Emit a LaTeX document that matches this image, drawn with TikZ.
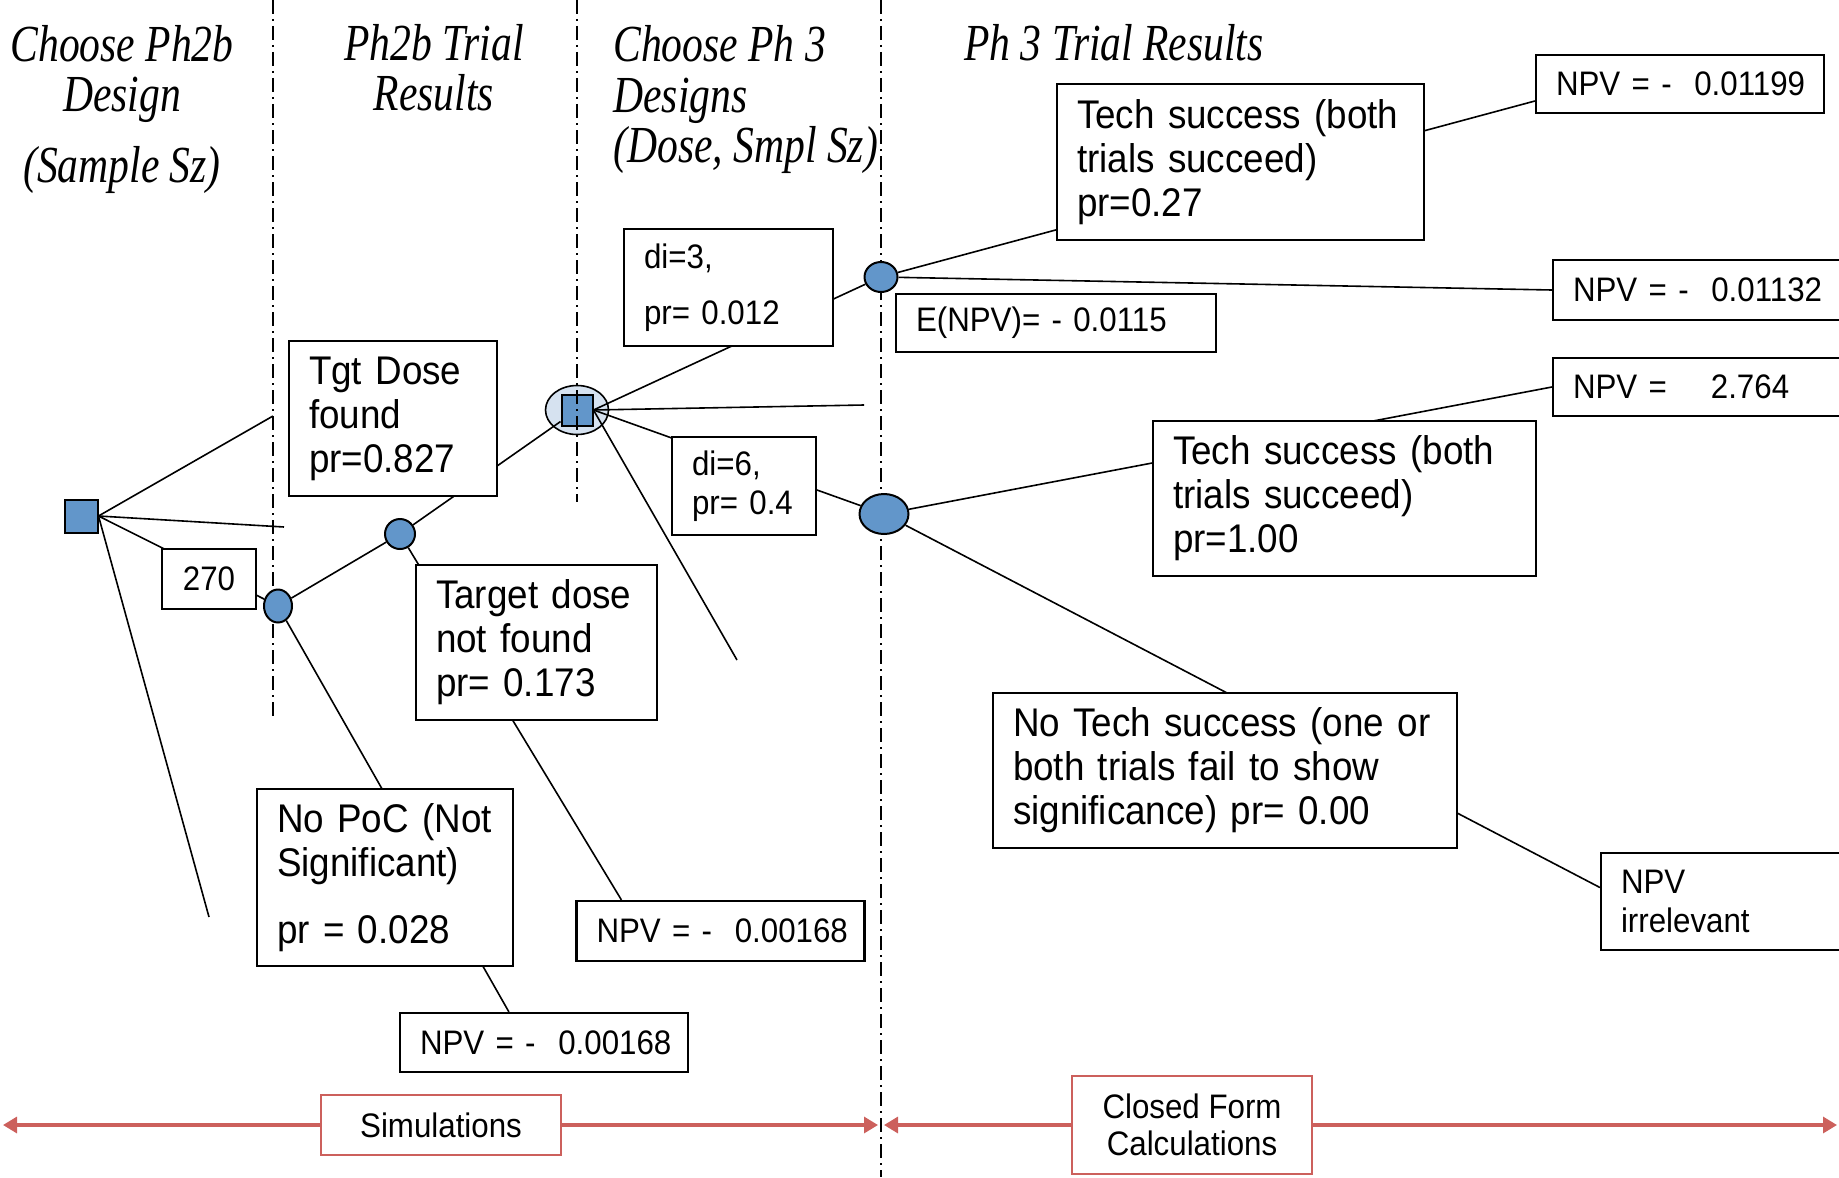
\documentclass[tikz,border=0pt]{standalone}
\usepackage{fontspec}
\setmainfont{Liberation Sans}[FakeStretch=0.92]
\newfontfamily\headfont{Liberation Serif}[FakeStretch=0.8]
\usetikzlibrary{arrows.meta,backgrounds,shapes.geometric}
\definecolor{nodeblue}{RGB}{98,150,202}
\definecolor{haloblue}{RGB}{214,226,240}
\definecolor{spanred}{RGB}{204,96,92}
\begin{document}
\begin{tikzpicture}[x=0.5pt,y=-0.5pt,
  head/.style={font=\headfont\itshape\fontsize{26}{25}\selectfont,inner sep=0pt},
  lbl/.style={draw,line width=1.1pt,fill=white,align=left,inner xsep=10pt,inner ysep=2pt,
    font=\fontsize{20}{22}\selectfont},
  sml/.style={lbl,font=\fontsize{17}{19.4}\selectfont},
  span/.style={draw=spanred,line width=1.1pt,fill=white,align=center,
    font=\fontsize{17}{18.8}\selectfont},
  decision/.style={draw,line width=1pt,fill=nodeblue,minimum size=#1,inner sep=0pt},
  chance/.style={ellipse,draw,line width=1pt,fill=nodeblue,inner sep=0pt},
  branch/.style={line width=0.8pt},
  divider/.style={line width=0.7pt,dash pattern=on 7pt off 2.5pt on 1pt off 2.5pt},
  spanarrow/.style={draw=spanred,line width=1.6pt,-{Triangle[length=7pt,width=8pt]}}]
\useasboundingbox (0,0) rectangle (1839,1177);

% column headers (anchored at the baseline of the last line)
\node[head,anchor=base,align=center] (hdA) at (122,182) {Choose Ph2b\\Design\\[10.5pt](Sample Sz)};
\node[head,anchor=base,align=center] (hdB) at (434,111) {Ph2b Trial\\Results};
\node[head,anchor=base west,align=left] (hdC) at (613,162) {Choose Ph 3\\Designs\\(Dose, Smpl Sz)};
\node[head,anchor=base west] (hdD) at (964,61) {Ph 3 Trial Results};

% decision and chance nodes
\node[decision=16.5pt] (root) at (81,516) {};
\node[chance,minimum width=14pt,minimum height=16.5pt] (c1) at (278,606) {};
\node[chance,minimum width=15pt,minimum height=15pt] (c2) at (400,534) {};
\node[decision=15.5pt] (d2) at (577,410) {};
\node[chance,minimum width=16.5pt,minimum height=15pt] (c3) at (881,277) {};
\node[chance,minimum width=24.5pt,minimum height=20pt] (c4) at (884,514) {};

% branch labels and payoffs
\node[sml,align=center,inner xsep=0pt,minimum width=47pt,minimum height=30pt] (n270) at (209,579) {270};
\node[lbl,text width=84pt,minimum height=77.5pt] (tgt) at (393,418.5) {Tgt Dose\\found\\pr=0.827};
\node[lbl,text width=100.5pt,minimum height=77.5pt] (notfound) at (536.5,642.5) {Target dose\\not found\\pr= 0.173};
\node[lbl,text width=108pt,minimum height=88.5pt] (nopoc) at (385,877.5) {No PoC (Not\\Significant)\\[11.5pt]pr = 0.028};
\node[sml,text width=124pt,minimum height=29.5pt] (npvA) at (544,1042.5) {\mbox{NPV = - \ 0.00168}};
\node[sml,text width=124pt,minimum height=30pt] (npvB) at (720.5,931) {\mbox{NPV = - \ 0.00168}};
\node[sml,text width=84.5pt,minimum height=58.5pt] (di3) at (728.5,287.5) {di=3,\\[8.6pt]pr=~0.012};
\node[sml,text width=52pt,minimum height=49pt] (di6) at (744,486) {di=6,\\pr=~0.4};
\node[lbl,text width=163.5pt,minimum height=78pt] (ts1) at (1240.5,162) {Tech success (both\\trials succeed)\\pr=0.27};
\node[sml,text width=124pt,minimum height=29pt] (npv1199) at (1680,84) {\mbox{NPV = - \ 0.01199}};
\node[sml,text width=124pt,minimum height=30pt] (npv1132) at (1697,290) {\mbox{NPV = - \ 0.01132}};
\node[sml,text width=140pt,minimum height=29pt] (enpv) at (1056,323) {\mbox{E(NPV)= - 0.0115}};
\node[sml,text width=124pt,minimum height=29pt] (npv2764) at (1697,387) {\mbox{NPV =\hspace{22pt}2.764}};
\node[lbl,text width=171.5pt,minimum height=77.5pt] (ts2) at (1344.5,498.5) {Tech success (both\\trials succeed)\\pr=1.00};
\node[lbl,text width=212pt,minimum height=77.5pt] (nots) at (1225,770.5) {No Tech success (one or\\both trials fail to show\\significance) pr=~0.00};
\node[sml,text width=105pt,minimum height=48.5pt] (irrel) at (1726,901.5) {NPV\\irrelevant};

% method spans
\node[span,minimum width=120pt,minimum height=30pt] (sim) at (441,1125) {Simulations};
\node[span,minimum width=120pt,minimum height=49pt] (cfc) at (1192,1125) {Closed Form\\Calculations};

\coordinate (rootUp) at (273,416);
\coordinate (rootMid) at (284,527);
\coordinate (rootLow) at (209,917);
\coordinate (d2Mid) at (864,405);
\coordinate (d2Low) at (737,660);
\coordinate (simL) at (3,1125);
\coordinate (simR) at (878,1125);
\coordinate (cfcL) at (884,1125);
\coordinate (cfcR) at (1837,1125);

\begin{pgfonlayer}{background}
\foreach \x/\y in {273/721,881/1177}
  \draw[divider] (\x,0) -- (\x,\y);
\node[ellipse,draw,line width=0.8pt,fill=haloblue,minimum width=31.5pt,minimum height=24.5pt] (halo) at (d2) {};
\foreach \t in {rootUp,rootMid,c1,rootLow}
  \draw[branch] (root.east) -- (\t);
\draw[branch] (c1) -- (c2);
\draw[branch] (c1) -- ([xshift=55pt]npvA.north west);
\draw[branch] (c2) -- (d2);
\draw[branch] (c2) -- ([xshift=23pt]npvB.north west);
\foreach \t in {c3,d2Mid,c4,d2Low}
  \draw[branch] (d2.east) -- (\t);
\draw[branch] (c3) -- ([yshift=-8.5pt]npv1199.west);
\draw[branch] (c3) -- (npv1132.west);
\draw[branch] (c4) -- (npv2764.west);
\draw[branch] (c4) -- ([yshift=7pt]irrel.west);
\end{pgfonlayer}

\draw[divider] (577,0) -- (577,502);
\foreach \a/\b in {sim.west/simL,sim.east/simR,cfc.west/cfcL,cfc.east/cfcR}
  \draw[spanarrow] (\a) -- (\b);
\end{tikzpicture}
\end{document}
